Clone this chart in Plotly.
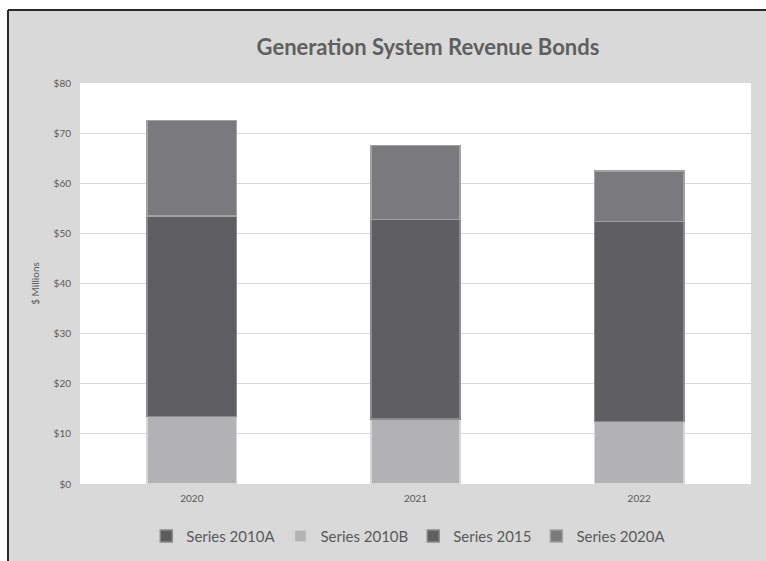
import plotly.graph_objects as go

# Fiscal years on the category axis
years = ["2020", "2021", "2022"]

# Outstanding principal by bond series ($ millions), stacked per year
series_2010a = [0.0, 0.0, 0.0]
series_2010b = [13.5, 13.0, 12.5]
series_2015 = [40.0, 39.8, 39.9]
series_2020a = [19.0, 14.7, 10.0]

tick_vals = [0, 10, 20, 30, 40, 50, 60, 70, 80]
tick_text = ["$0", "$10", "$20", "$30", "$40", "$50", "$60", "$70", "$80"]

FONT = "Lato, 'Open Sans', sans-serif"
TEXT = "#595959"

fig = go.Figure()

traces = [
    ("Series 2010A", series_2010a, "#5c5c5e", "#8a8a8c"),
    ("Series 2010B", series_2010b, "#b2b2b4", "#d6d6d8"),
    ("Series 2015", series_2015, "#5f5f61", "#8c8c8e"),
    ("Series 2020A", series_2020a, "#7a7a7c", "#a2a2a4"),
]
for name, vals, fill, edge in traces:
    fig.add_trace(go.Bar(
        x=years, y=vals, name=name,
        marker=dict(color=fill, line=dict(color=edge, width=1.5)),
    ))

# Chart-area frame: white strip above/left with a dark rule along the edge
shapes = [
    dict(type="rect", xref="paper", yref="paper", x0=-0.2, x1=1.1, y0=1.182, y1=1.3,
         fillcolor="white", line_width=0, layer="above"),
    dict(type="rect", xref="paper", yref="paper", x0=-0.2, x1=-0.1073, y0=-0.3, y1=1.3,
         fillcolor="white", line_width=0, layer="above"),
    dict(type="line", xref="paper", yref="paper", x0=-0.1073, x1=1.1, y0=1.182, y1=1.182,
         line=dict(color="#2a2a2a", width=2), layer="above"),
    dict(type="line", xref="paper", yref="paper", x0=-0.1073, x1=-0.1073, y0=1.182, y1=-0.3,
         line=dict(color="#2a2a2a", width=2), layer="above"),
]

fig.update_layout(
    barmode="stack",
    bargap=0.6,
    width=766, height=561,
    margin=dict(l=80, r=15, t=83, b=77, autoexpand=False),
    paper_bgcolor="#d9d9d9",
    plot_bgcolor="white",
    font=dict(family=FONT, color=TEXT),
    title=dict(
        text="<b>Generation System Revenue Bonds</b>",
        x=0.5186, xref="paper", xanchor="center",
        y=0.916, yref="container", yanchor="middle",
        font=dict(family=FONT, size=22, color="#5f5f5f"),
    ),
    xaxis=dict(
        showgrid=False, showline=False, ticks="",
        tickfont=dict(size=10, color=TEXT),
        ticklabelstandoff=7, automargin=False,
    ),
    yaxis=dict(
        range=[0, 80], tickvals=tick_vals, ticktext=tick_text,
        showgrid=True, gridcolor="#d9d9d9", gridwidth=1,
        zeroline=False, showline=False, ticks="",
        tickfont=dict(size=10, color=TEXT),
        ticklabelstandoff=8, automargin=False,
        title=dict(text="$ Millions", font=dict(size=10, color=TEXT), standoff=12),
    ),
    legend=dict(
        orientation="h", x=0.49, xanchor="center",
        y=-0.13, yanchor="middle",
        font=dict(size=15, color=TEXT), bgcolor="rgba(0,0,0,0)",
        traceorder="normal", itemwidth=30,
    ),
    shapes=shapes,
)

fig.write_html("out.html")
